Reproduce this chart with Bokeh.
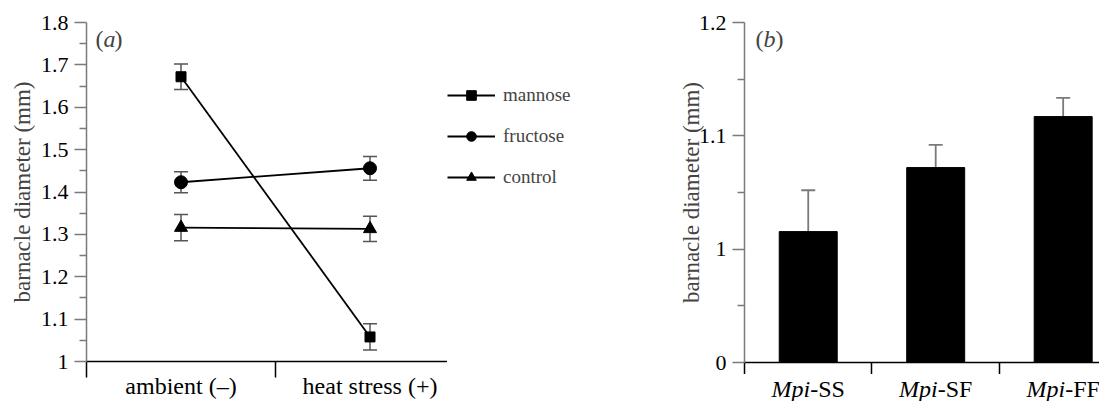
from bokeh.plotting import figure
from bokeh.models import (ColumnDataSource, FixedTicker, CustomJSTickFormatter, Whisker,
                          Legend, LegendItem, Label, Range1d, TeeHead)
from bokeh.layouts import row, column
from bokeh.core.properties import value
from bokeh.embed import file_html
from bokeh.resources import INLINE

# ---------------- data: panel (a) ----------------
conditions = ["ambient (\u2013)", "heat stress (+)"]
mannose_mean = [1.672, 1.058]
mannose_se = [0.030, 0.031]
fructose_mean = [1.423, 1.456]
fructose_se = [0.025, 0.028]
control_mean = [1.316, 1.313]
control_se = [0.031, 0.030]
a_ticks = [1.0, 1.1, 1.2, 1.3, 1.4, 1.5, 1.6, 1.7, 1.8]
a_tick_labels = ["1", "1.1", "1.2", "1.3", "1.4", "1.5", "1.6", "1.7", "1.8"]

# ---------------- data: panel (b) ----------------
genotype_prefix = "Mpi"
genotypes = ["-SS", "-SF", "-FF"]
bar_mean = [1.0155, 1.072, 1.117]
bar_se = [0.0365, 0.020, 0.0165]
b_ticks = [0.9, 1.0, 1.1, 1.2]
b_tick_labels = ["0", "1", "1.1", "1.2"]

FONT = "Liberation Serif"
AXIS_GRAY = "#7a7a7a"
ERR_GRAY = "#555555"

fmt_js = """
const i = tvals.findIndex(t => Math.abs(t - tick) < 1e-9);
return i >= 0 ? tlabs[i] : '';
"""


def style_axes(p, yticks, ylabels, yminor, label_standoff, xtick_len):
    yax = p.yaxis[0]
    yax.ticker = FixedTicker(ticks=yticks, minor_ticks=yminor)
    yax.formatter = CustomJSTickFormatter(args=dict(tvals=yticks, tlabs=ylabels), code=fmt_js)
    yax.axis_line_color = AXIS_GRAY
    yax.axis_line_width = 1.5
    yax.major_tick_line_color = AXIS_GRAY
    yax.minor_tick_line_color = AXIS_GRAY
    yax.major_tick_line_width = 1.5
    yax.minor_tick_line_width = 1.5
    yax.major_tick_out = 12
    yax.major_tick_in = 0
    yax.minor_tick_out = 7
    yax.minor_tick_in = 0
    yax.major_label_standoff = 6
    yax.major_label_text_font = FONT
    yax.major_label_text_font_size = "22px"
    yax.major_label_text_color = "black"
    yax.axis_label = "barnacle diameter (mm)"
    yax.axis_label_text_font = FONT
    yax.axis_label_text_font_size = "23px"
    yax.axis_label_text_font_style = "normal"
    yax.axis_label_standoff = label_standoff

    xax = p.xaxis[0]
    xax.axis_line_color = "black"
    xax.axis_line_width = 1.5
    xax.major_tick_line_color = None
    xax.major_tick_out = 0
    xax.major_tick_in = 0
    xax.minor_tick_line_color = "black"
    xax.minor_tick_line_width = 1.5
    xax.minor_tick_out = xtick_len
    xax.minor_tick_in = 0
    xax.major_label_text_font = FONT
    xax.major_label_text_font_size = "24px"
    xax.major_label_text_color = "black"
    p.grid.visible = False
    p.outline_line_color = None


# ---------------- panel (a) ----------------
pa = figure(width=447, height=401, output_backend="svg", toolbar_location=None,
            x_range=Range1d(0, 1.91), y_range=Range1d(1.0, 1.8),
            min_border_left=86, min_border_right=0, min_border_top=22, min_border_bottom=39)
xpos = [i + 0.5 for i in range(len(conditions))]
style_axes(pa, a_ticks, a_tick_labels, [round(1.05 + 0.1 * i, 2) for i in range(8)], 3, 16)
pa.xaxis[0].ticker = FixedTicker(ticks=xpos, minor_ticks=[0, 1, 2])
pa.xaxis[0].formatter = CustomJSTickFormatter(args=dict(tvals=xpos, tlabs=conditions), code=fmt_js)
pa.xaxis[0].major_label_standoff = -5

series = [("mannose", mannose_mean, mannose_se, "square", 10),
          ("fructose", fructose_mean, fructose_se, "circle", 13),
          ("control", control_mean, control_se, "triangle", 13)]
for name, mean, se, marker, size in series:
    src = ColumnDataSource(dict(x=xpos, y=mean,
                                lo=[m - s for m, s in zip(mean, se)],
                                hi=[m + s for m, s in zip(mean, se)]))
    w = Whisker(base="x", lower="lo", upper="hi", source=src, line_color=ERR_GRAY, line_width=1.5,
                upper_head=TeeHead(size=14, line_color=ERR_GRAY, line_width=1.5),
                lower_head=TeeHead(size=14, line_color=ERR_GRAY, line_width=1.5))
    pa.add_layout(w)
    pa.line("x", "y", source=src, line_color="black", line_width=1.8)
    pa.scatter("x", "y", source=src, marker=marker, size=size,
               fill_color="black", line_color="black")

# panel label (a)
for txt, dx, style in [("(", 9, "normal"), ("a", 17, "italic"), (")", 28, "normal")]:
    pa.add_layout(Label(x=0, y=1.8, x_offset=dx, y_offset=-16, text=txt,
                        text_font=FONT, text_font_size="24px", text_font_style=style,
                        text_baseline="alphabetic", text_align="left"))

# ---------------- legend area to the right of panel (a) ----------------
pl = figure(width=217, height=401, output_backend="svg", toolbar_location=None,
            x_range=Range1d(0, 1), y_range=Range1d(0, 1),
            x_axis_location=None, y_axis_location=None,
            min_border_left=0, min_border_right=0, min_border_top=0, min_border_bottom=0)
pl.grid.visible = False
pl.outline_line_color = None
items = []
for name, mean, se, marker, size in series:
    nsrc = ColumnDataSource(dict(x=[float("nan")], y=[float("nan")]))
    lr = pl.line("x", "y", source=nsrc, line_color="black", line_width=1.8)
    sr = pl.scatter("x", "y", source=nsrc, marker=marker, size=size,
                    fill_color="black", line_color="black")
    items.append(LegendItem(label=name, renderers=[lr, sr]))
legend = Legend(items=items, location=(0, 172), orientation="vertical",
                border_line_color=None, background_fill_alpha=0,
                label_text_font=FONT, label_text_font_size="19px",
                glyph_width=48, glyph_height=24, label_height=24,
                spacing=17, padding=0, margin=0, label_standoff=8)
pl.add_layout(legend, "center")

# ---------------- panel (b) ----------------
pb = figure(width=435, height=374, output_backend="svg", toolbar_location=None,
            x_range=Range1d(0, 2.785), y_range=Range1d(0.9, 1.2),
            min_border_left=80, min_border_right=0, min_border_top=22, min_border_bottom=12)
style_axes(pb, b_ticks, b_tick_labels, [0.95, 1.05, 1.15], -8, 12)
bx = [i + 0.5 for i in range(len(genotypes))]
pb.xaxis[0].ticker = FixedTicker(ticks=bx, minor_ticks=[0, 1, 2])
pb.xaxis[0].formatter = CustomJSTickFormatter(code="return '';")
pb.xaxis[0].major_label_text_font_size = "0px"
pb.xaxis[0].major_label_standoff = 0

bsrc = ColumnDataSource(dict(x=bx, top=bar_mean,
                             hi=[m + s for m, s in zip(bar_mean, bar_se)]))
pb.add_layout(Whisker(base="x", lower="top", upper="hi", source=bsrc, line_color=AXIS_GRAY,
                      line_width=1.8, upper_head=TeeHead(size=14, line_color=AXIS_GRAY, line_width=1.8),
                      lower_head=None))
pb.vbar(x="x", top="top", bottom=b_ticks[0], width=0.455, source=bsrc,
        fill_color="black", line_color="black")

for txt, dx, style in [("(", 11, "normal"), ("b", 19, "italic"), (")", 31, "normal")]:
    pb.add_layout(Label(x=0, y=1.2, x_offset=dx, y_offset=-16, text=txt,
                        text_font=FONT, text_font_size="24px", text_font_style=style,
                        text_baseline="alphabetic", text_align="left"))

# strip under panel (b) carrying the genotype labels (Mpi in italics)
strip = figure(width=435, height=27, output_backend="svg", toolbar_location=None,
               x_range=pb.x_range, y_range=Range1d(0, 1),
               x_axis_location=None, y_axis_location=None,
               min_border_left=80, min_border_right=0, min_border_top=0, min_border_bottom=0)
strip.grid.visible = False
strip.outline_line_color = None
lsrc = ColumnDataSource(dict(x=bx, y=[0.48] * len(bx),
                             pre=[genotype_prefix] * len(bx), suf=genotypes))
strip.text(x="x", y="y", text="pre", source=lsrc, x_offset=2,
           text_font=value(FONT), text_font_size="24px", text_font_style=value("italic"),
           text_align="right", text_baseline="alphabetic", text_color="black")
strip.text(x="x", y="y", text="suf", source=lsrc, x_offset=2,
           text_font=value(FONT), text_font_size="24px", text_font_style=value("normal"),
           text_align="left", text_baseline="alphabetic", text_color="black")

layout = row(pa, pl, column(pb, strip))
open("out.html", "w").write(file_html(layout, INLINE))
